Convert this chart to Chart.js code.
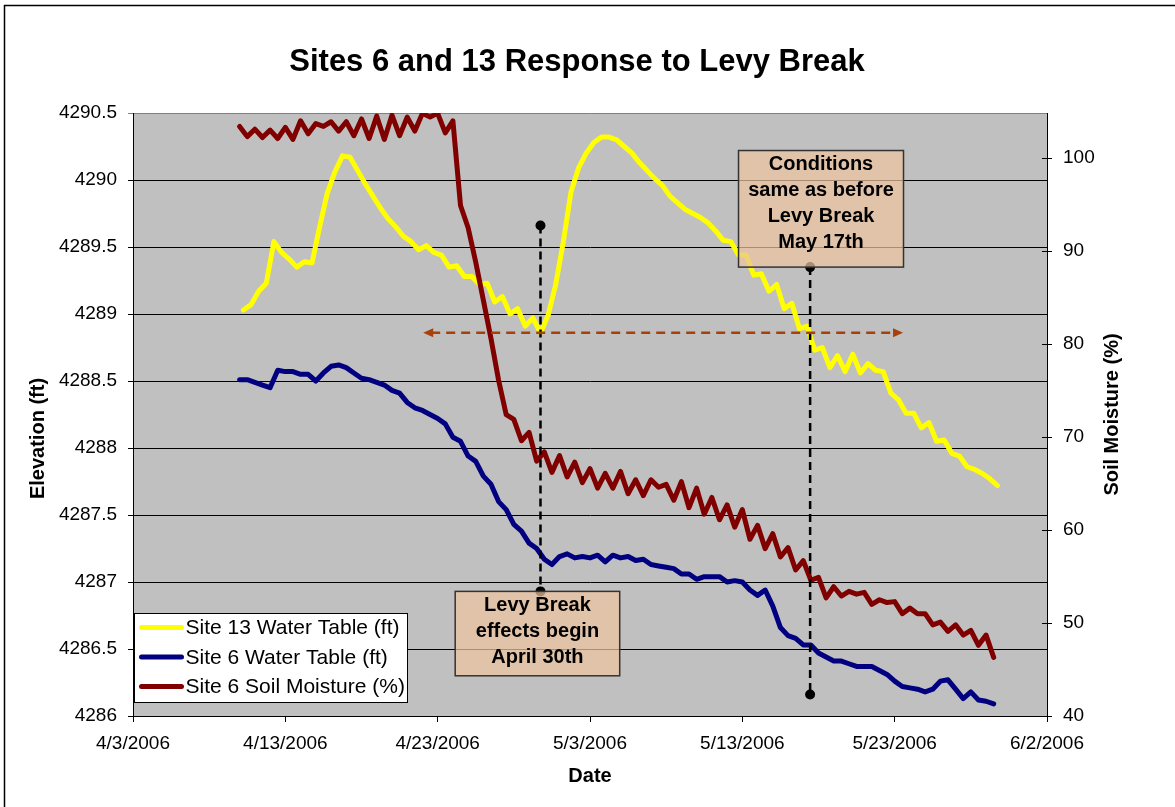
<!DOCTYPE html>
<html>
<head>
<meta charset="utf-8">
<title>Sites 6 and 13 Response to Levy Break</title>
<script src="https://cdn.jsdelivr.net/npm/chart.js@4.4.0/dist/chart.umd.min.js"></script>
<style>
  html, body { margin: 0; padding: 0; background: #fff; }
  canvas { display: block; }
</style>
</head>
<body>
<canvas id="levyChart" width="1175" height="807"></canvas>
<script>
// x values are days counted from 4/3/2006 00:00
const xTickDays = [0, 10, 20, 30, 40, 50, 60];
const xTickLabels = ['4/3/2006', '4/13/2006', '4/23/2006', '5/3/2006', '5/13/2006', '5/23/2006', '6/2/2006'];
const elevTicks = [4286, 4286.5, 4287, 4287.5, 4288, 4288.5, 4289, 4289.5, 4290, 4290.5];
const moistTicks = [40, 50, 60, 70, 80, 90, 100];

// readings every 12 hours; site 13 logged at 6:00/18:00, site 6 at 0:00/12:00
const site13Start = 7.25;
const site6Start = 7.0;
const sampleStep = 0.5;

const site13Water = [
  4289.03, 4289.07, 4289.17, 4289.23, 4289.54, 4289.46, 4289.41, 4289.35, 4289.39, 4289.38,
  4289.65, 4289.90, 4290.06, 4290.18, 4290.17, 4290.07, 4289.97, 4289.88, 4289.79, 4289.71,
  4289.65, 4289.58, 4289.54, 4289.48, 4289.51, 4289.46, 4289.44, 4289.35, 4289.36, 4289.28,
  4289.28, 4289.22, 4289.23, 4289.09, 4289.13, 4289.00, 4289.04, 4288.91, 4288.97, 4288.86,
  4288.99, 4289.22, 4289.54, 4289.91, 4290.09, 4290.20, 4290.28, 4290.32, 4290.32, 4290.30,
  4290.25, 4290.20, 4290.13, 4290.07, 4290.01, 4289.96, 4289.88, 4289.83, 4289.78, 4289.75,
  4289.72, 4289.68, 4289.62, 4289.55, 4289.54, 4289.44, 4289.44, 4289.29, 4289.30, 4289.17,
  4289.22, 4289.04, 4289.08, 4288.89, 4288.91, 4288.73, 4288.75, 4288.60, 4288.69, 4288.57,
  4288.70, 4288.56, 4288.63, 4288.58, 4288.57, 4288.41, 4288.36, 4288.26, 4288.26, 4288.15,
  4288.19, 4288.05, 4288.06, 4287.96, 4287.94, 4287.86, 4287.84, 4287.81, 4287.77, 4287.72
];

const site6Water = [
  4288.51, 4288.51, 4288.49, 4288.47, 4288.45, 4288.58, 4288.57, 4288.57, 4288.55, 4288.55,
  4288.50, 4288.56, 4288.61, 4288.62, 4288.60, 4288.56, 4288.52, 4288.51, 4288.49, 4288.47,
  4288.43, 4288.41, 4288.34, 4288.30, 4288.28, 4288.25, 4288.22, 4288.18, 4288.08, 4288.05,
  4287.94, 4287.90, 4287.79, 4287.73, 4287.60, 4287.54, 4287.43, 4287.38, 4287.29, 4287.25,
  4287.17, 4287.13, 4287.19, 4287.21, 4287.18, 4287.19, 4287.18, 4287.20, 4287.15, 4287.20,
  4287.18, 4287.19, 4287.16, 4287.17, 4287.13, 4287.12, 4287.11, 4287.10, 4287.06, 4287.06,
  4287.02, 4287.04, 4287.04, 4287.04, 4287.00, 4287.01, 4287.00, 4286.94, 4286.90, 4286.94,
  4286.82, 4286.66, 4286.60, 4286.58, 4286.53, 4286.53, 4286.47, 4286.44, 4286.41, 4286.41,
  4286.39, 4286.37, 4286.37, 4286.37, 4286.34, 4286.31, 4286.26, 4286.22, 4286.21, 4286.20,
  4286.18, 4286.20, 4286.26, 4286.27, 4286.20, 4286.13, 4286.18, 4286.12, 4286.11, 4286.09
];

const site6Soil = [
  103.4, 102.3, 103.1, 102.2, 103.0, 102.1, 103.3, 102.0, 104.0, 102.6,
  103.7, 103.4, 103.9, 102.9, 103.9, 102.4, 104.2, 102.1, 104.5, 102.0,
  104.6, 102.4, 104.4, 102.9, 104.8, 104.4, 104.8, 102.7, 104.0, 94.9,
  92.5, 88.8, 84.7, 80.6, 76.1, 72.4, 71.9, 69.6, 70.5, 67.4,
  68.4, 66.2, 68.0, 65.7, 67.3, 65.1, 66.6, 64.5, 66.1, 64.5,
  66.3, 63.9, 65.4, 63.7, 65.4, 64.6, 64.9, 63.2, 65.2, 62.4,
  64.5, 61.7, 63.5, 61.1, 62.7, 60.3, 62.2, 59.0, 60.5, 58.0,
  59.6, 57.1, 58.1, 55.7, 56.7, 54.6, 54.9, 52.7, 53.9, 52.9,
  53.4, 53.1, 53.3, 52.0, 52.5, 52.2, 52.3, 51.0, 51.6, 51.0,
  51.0, 49.8, 50.1, 49.1, 49.8, 48.7, 49.2, 47.6, 48.7, 46.3
];

// annotations, in axis units (days / elevation ft)
const breakLine = { day: 26.75, top: 4289.66, bottom: 4286.93 };
const recoverLine = { day: 44.45, top: 4289.35, bottom: 4286.16 };
const sameLevel = { elev: 4288.86, from: 19.05, to: 50.55 };
const notes = [
  { lines: ['Levy Break', 'effects begin', 'April 30th'], x0: 21.15, x1: 31.95, y0: 4286.93, y1: 4286.30 },
  { lines: ['Conditions', 'same as before', 'Levy Break', 'May 17th'], x0: 39.75, x1: 50.58, y0: 4290.22, y1: 4289.35 }
];

const FONT = '"Liberation Sans", Arial, sans-serif';
Chart.defaults.font.family = FONT;
Chart.defaults.color = '#000';

function toPoints(values, start) {
  return values.map((v, i) => ({ x: start + i * sampleStep, y: v }));
}

function dashedVertical(ctx, x, yTop, yBottom) {
  ctx.save();
  ctx.strokeStyle = '#000';
  ctx.lineWidth = 2.5;
  ctx.setLineDash([8, 5]);
  ctx.beginPath();
  ctx.moveTo(x, yTop);
  ctx.lineTo(x, yBottom);
  ctx.stroke();
  ctx.setLineDash([]);
  ctx.fillStyle = '#000';
  [yTop, yBottom].forEach(yy => {
    ctx.beginPath();
    ctx.arc(x, yy, 5, 0, Math.PI * 2);
    ctx.fill();
  });
  ctx.restore();
}

const chartDecor = {
  id: 'chartDecor',
  beforeDraw(chart) {
    const { ctx, chartArea: a } = chart;
    ctx.save();
    ctx.fillStyle = '#fff';
    ctx.fillRect(0, 0, chart.width, chart.height);
    ctx.fillStyle = '#c0c0c0';
    ctx.fillRect(a.left, a.top, a.right - a.left, a.bottom - a.top);
    ctx.restore();
  },
  afterDatasetsDraw(chart) {
    const { ctx, scales: { x, y } } = chart;

    dashedVertical(ctx, x.getPixelForValue(breakLine.day), y.getPixelForValue(breakLine.top), y.getPixelForValue(breakLine.bottom));
    dashedVertical(ctx, x.getPixelForValue(recoverLine.day), y.getPixelForValue(recoverLine.top), y.getPixelForValue(recoverLine.bottom));

    // double-headed arrow
    const ay = y.getPixelForValue(sameLevel.elev);
    const ax0 = x.getPixelForValue(sameLevel.from);
    const ax1 = x.getPixelForValue(sameLevel.to);
    ctx.save();
    ctx.strokeStyle = '#a8400c';
    ctx.fillStyle = '#a8400c';
    ctx.lineWidth = 2.5;
    ctx.setLineDash([9, 6]);
    ctx.beginPath();
    ctx.moveTo(ax0 + 8, ay);
    ctx.lineTo(ax1 - 8, ay);
    ctx.stroke();
    ctx.setLineDash([]);
    ctx.beginPath();
    ctx.moveTo(ax0, ay); ctx.lineTo(ax0 + 10, ay - 4.5); ctx.lineTo(ax0 + 10, ay + 4.5); ctx.closePath();
    ctx.moveTo(ax1, ay); ctx.lineTo(ax1 - 10, ay - 4.5); ctx.lineTo(ax1 - 10, ay + 4.5); ctx.closePath();
    ctx.fill();
    ctx.restore();

    // text boxes
    notes.forEach(n => {
      const left = x.getPixelForValue(n.x0), right = x.getPixelForValue(n.x1);
      const top = y.getPixelForValue(n.y0), bottom = y.getPixelForValue(n.y1);
      ctx.save();
      ctx.fillStyle = 'rgba(236, 196, 158, 0.72)';
      ctx.fillRect(left, top, right - left, bottom - top);
      ctx.strokeStyle = '#333';
      ctx.lineWidth = 1.5;
      ctx.strokeRect(left, top, right - left, bottom - top);
      ctx.fillStyle = '#000';
      ctx.font = 'bold 20px ' + FONT;
      ctx.textAlign = 'center';
      ctx.textBaseline = 'middle';
      n.lines.forEach((t, i) => ctx.fillText(t, (left + right) / 2, top + 14 + i * 26));
      ctx.restore();
    });

    // legend
    const lg = { left: 134.5, top: 613.5, w: 273, h: 89 };
    ctx.save();
    ctx.fillStyle = '#fff';
    ctx.fillRect(lg.left, lg.top, lg.w, lg.h);
    ctx.strokeStyle = '#000';
    ctx.lineWidth = 1;
    ctx.strokeRect(lg.left, lg.top, lg.w, lg.h);
    ctx.font = '21px ' + FONT;
    ctx.textBaseline = 'middle';
    chart.data.datasets.forEach((ds, i) => {
      const ry = lg.top + 14 + i * 29.5;
      ctx.strokeStyle = ds.borderColor;
      ctx.lineWidth = 5;
      ctx.lineCap = 'round';
      ctx.beginPath();
      ctx.moveTo(lg.left + 7, ry);
      ctx.lineTo(lg.left + 47, ry);
      ctx.stroke();
      ctx.fillStyle = '#000';
      ctx.fillText(ds.label, lg.left + 51, ry + 1);
    });
    ctx.restore();
  },
  afterDraw(chart) {
    const { ctx, chartArea: a, scales: { y1 } } = chart;
    ctx.save();
    // inner half of the secondary axis tick marks
    ctx.strokeStyle = '#000';
    ctx.lineWidth = 1;
    moistTicks.forEach(v => {
      const py = Math.round(y1.getPixelForValue(v)) + 0.5;
      ctx.beginPath();
      ctx.moveTo(a.right - 5, py);
      ctx.lineTo(a.right, py);
      ctx.stroke();
    });

    ctx.fillStyle = '#000';
    ctx.textAlign = 'center';
    ctx.font = 'bold 31px ' + FONT;
    ctx.textBaseline = 'alphabetic';
    ctx.fillText('Sites 6 and 13 Response to Levy Break', 577, 71);

    ctx.font = 'bold 20px ' + FONT;
    ctx.textBaseline = 'middle';
    ctx.fillText('Date', (a.left + a.right) / 2, 776);

    const midY = (a.top + a.bottom) / 2;
    [['Elevation (ft)', 38, midY + 24], ['Soil Moisture (%)', 1112, midY]].forEach(([t, tx, ty]) => {
      ctx.save();
      ctx.translate(tx, ty);
      ctx.rotate(-Math.PI / 2);
      ctx.fillText(t, 0, 0);
      ctx.restore();
    });

    // outer chart border
    ctx.strokeStyle = '#000';
    ctx.lineWidth = 1.5;
    ctx.strokeRect(4.5, 5.5, 1200, 900);
    ctx.restore();
  }
};

new Chart(document.getElementById('levyChart'), {
  type: 'line',
  data: {
    datasets: [
      { label: 'Site 13 Water Table (ft)', data: toPoints(site13Water, site13Start), borderColor: '#ffff00', yAxisID: 'y', order: 2 },
      { label: 'Site 6 Water Table (ft)', data: toPoints(site6Water, site6Start), borderColor: '#000080', yAxisID: 'y', order: 3 },
      { label: 'Site 6 Soil Moisture (%)', data: toPoints(site6Soil, site6Start), borderColor: '#800000', yAxisID: 'y1', order: 1 }
    ]
  },
  options: {
    responsive: false,
    animation: false,
    events: [],
    devicePixelRatio: 1,
    layout: { padding: { top: 113 } },
    elements: {
      line: { borderWidth: 5, tension: 0, fill: false, borderJoinStyle: 'round', borderCapStyle: 'round' },
      point: { radius: 0 }
    },
    plugins: { legend: { display: false }, title: { display: false }, tooltip: { enabled: false } },
    scales: {
      x: {
        type: 'linear',
        min: 0,
        max: 60,
        afterBuildTicks: s => { s.ticks = xTickDays.map(v => ({ value: v })); },
        afterFit: s => { s.height = 91; },
        ticks: { callback: (v, i) => xTickLabels[i], font: { size: 19 }, padding: 10, maxRotation: 0, autoSkip: false },
        grid: { drawOnChartArea: false, color: '#000', tickLength: 6 },
        border: { color: '#000', width: 1 }
      },
      y: {
        position: 'left',
        min: 4286,
        max: 4290.5,
        afterBuildTicks: s => { s.ticks = elevTicks.map(v => ({ value: v })); },
        afterFit: s => { s.width = 133; },
        ticks: { callback: v => String(v), font: { size: 19 }, padding: 11 },
        grid: { color: c => (c.tick && c.tick.value === 4290.5 ? '#808080' : '#000'), tickLength: 5 },
        border: { color: '#000', width: 1 }
      },
      y1: {
        position: 'right',
        min: 40,
        max: 104.84,
        afterBuildTicks: s => { s.ticks = moistTicks.map(v => ({ value: v })); },
        afterFit: s => { s.width = 128; },
        ticks: { callback: v => String(v), font: { size: 19 }, padding: 11 },
        grid: { drawOnChartArea: false, color: '#000', tickLength: 5 },
        border: { color: '#000', width: 1 }
      }
    }
  },
  plugins: [chartDecor]
});
</script>
</body>
</html>
